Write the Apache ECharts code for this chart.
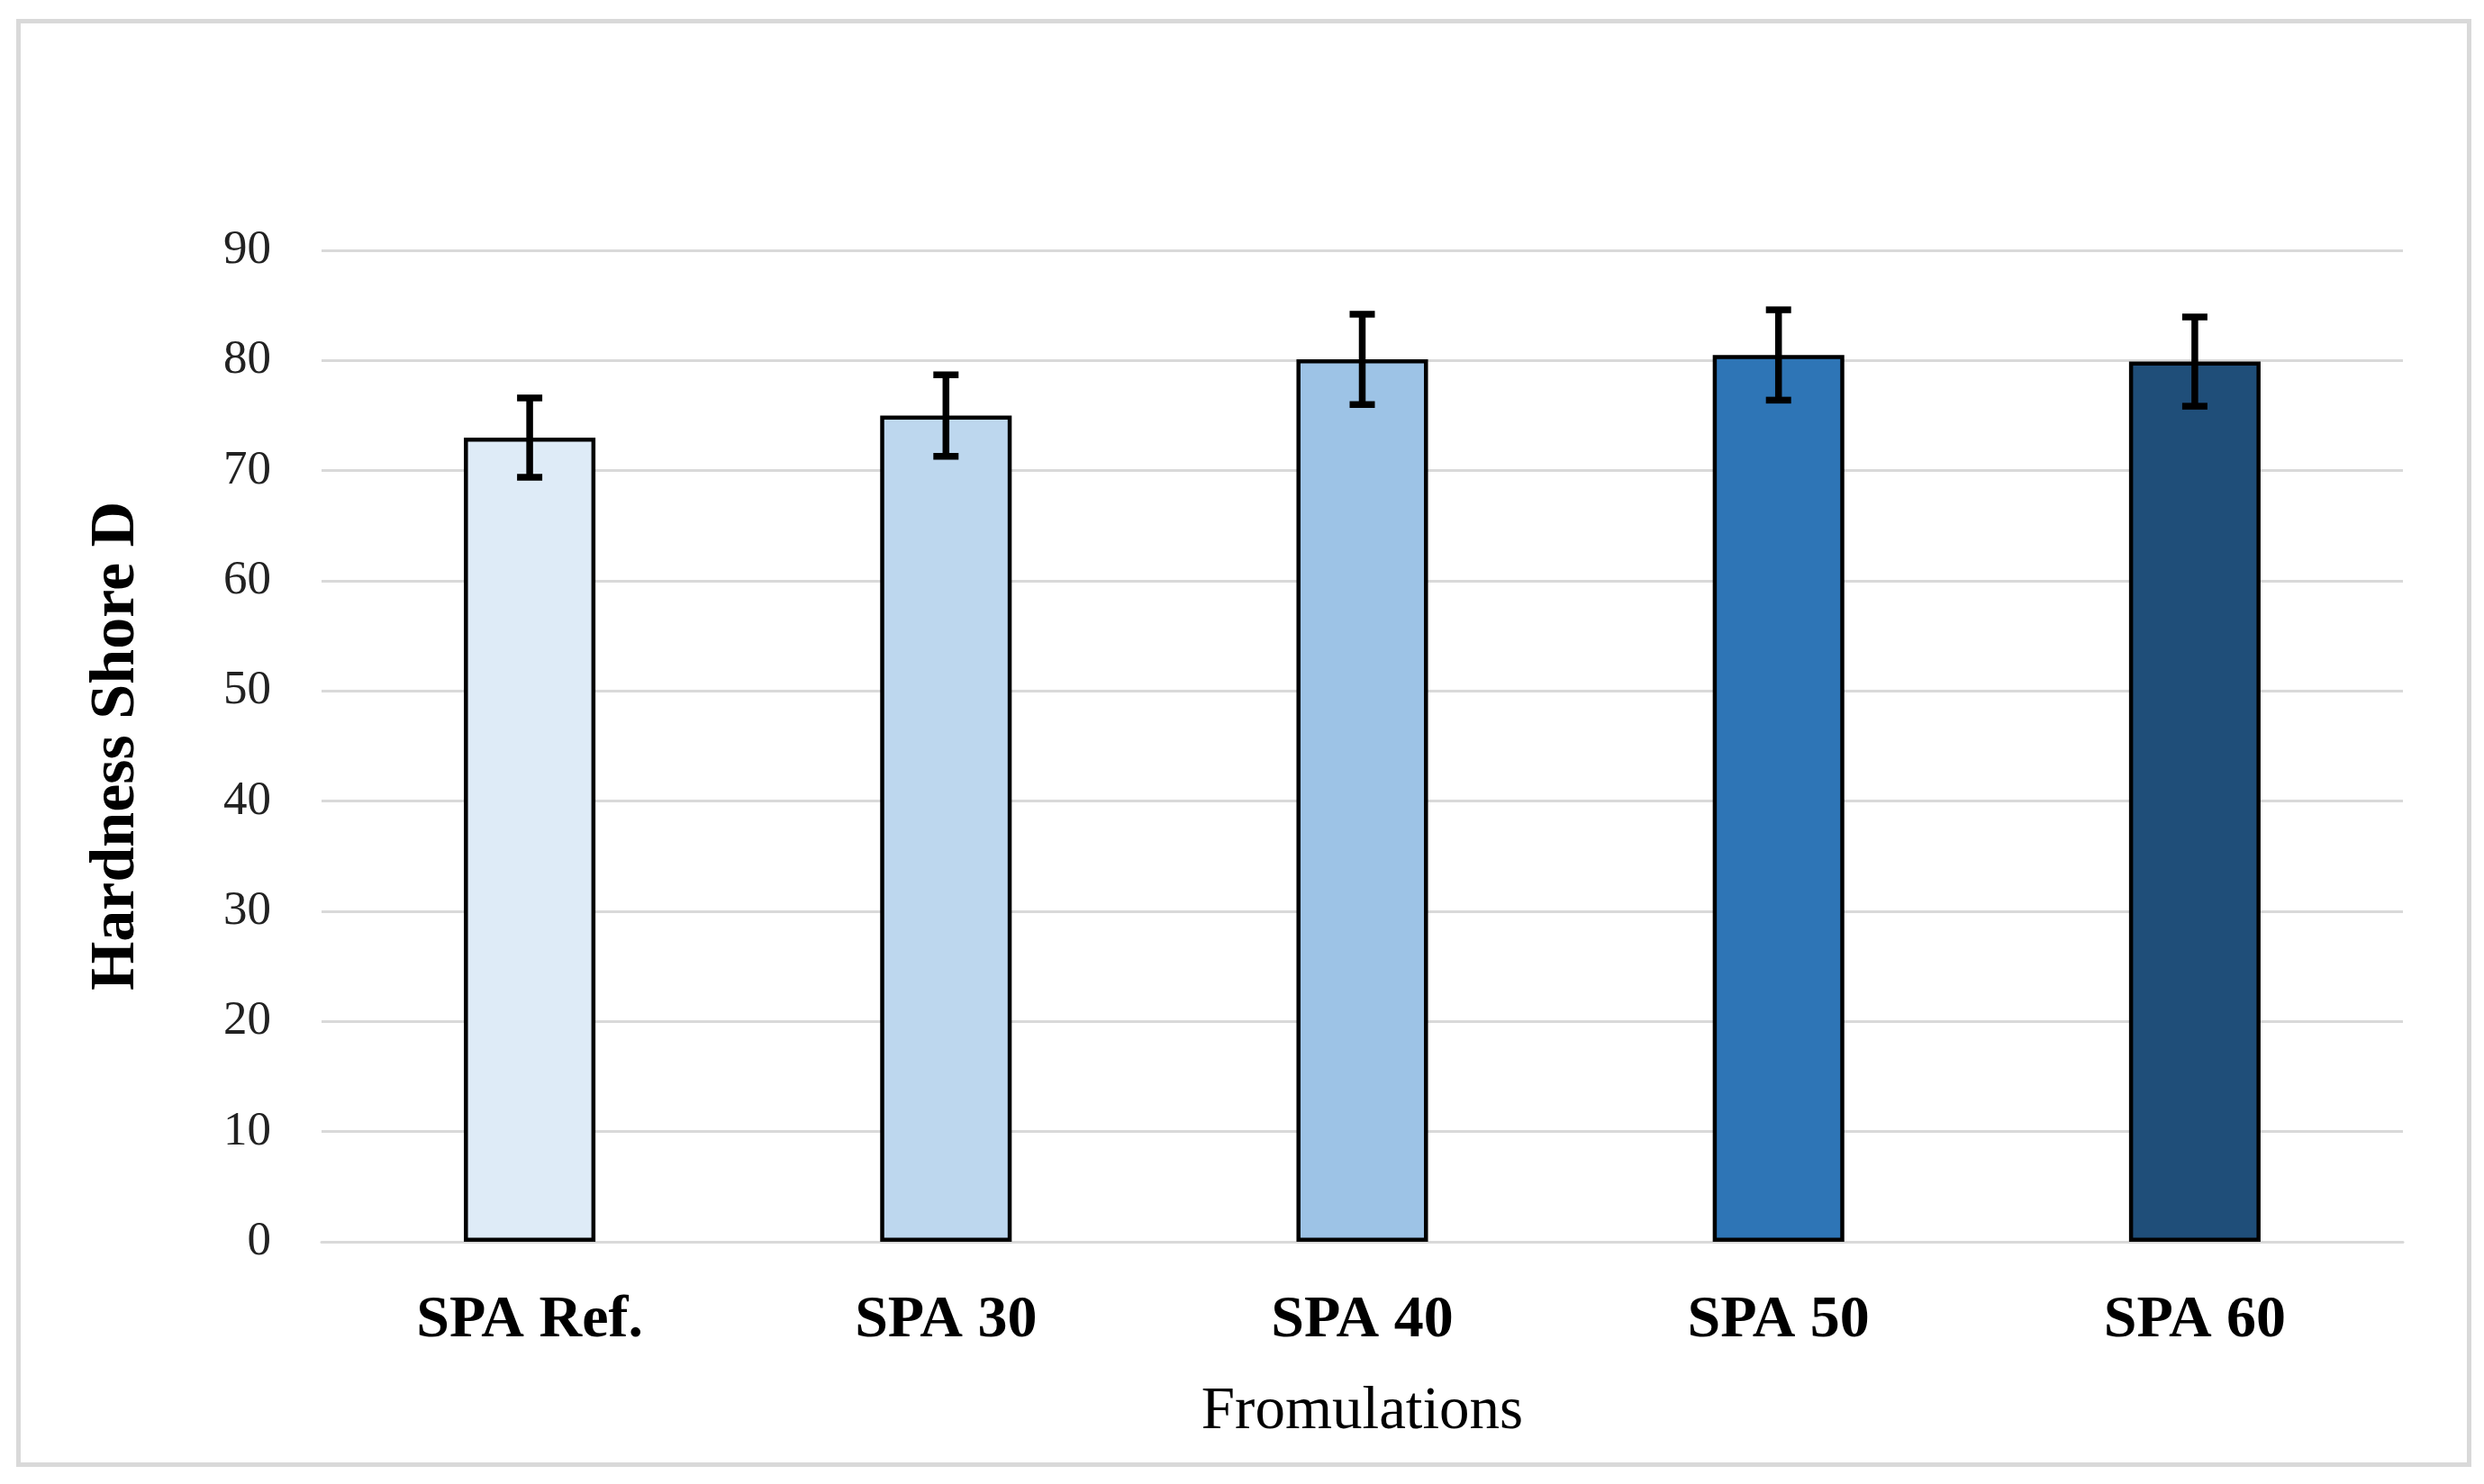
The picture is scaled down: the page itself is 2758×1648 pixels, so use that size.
<!DOCTYPE html>
<html>
<head>
<meta charset="utf-8">
<script src="https://cdn.jsdelivr.net/npm/echarts@6/dist/echarts.min.js"></script>
<style>
html,body{margin:0;padding:0;background:#fff;}
#wrap{position:absolute;left:18px;top:21px;width:2726px;height:1608px;border:5px solid #D9D9D9;box-sizing:border-box;}
#chart{position:absolute;left:0;top:0;width:2758px;height:1648px;}
</style>
</head>
<body>
<div id="wrap"></div>
<div id="chart"></div>
<script>
const categories = ['SPA Ref.', 'SPA 30', 'SPA 40', 'SPA 50', 'SPA 60'];
const hardness = [73.0, 75.0, 80.1, 80.5, 79.9];
const errors = [3.6, 3.7, 4.1, 4.1, 4.05];
const barColors = ['#DEEBF7', '#BDD7EE', '#9DC3E6', '#2E75B6', '#1F4E79'];
const yTicks = {min: 0, max: 90, interval: 10};

const chart = echarts.init(document.getElementById('chart'), null, {renderer: 'canvas'});
const serif = '"Liberation Serif", "DejaVu Serif", serif';

const option = {
  backgroundColor: 'transparent',
  animation: false,
  grid: {left: 357, right: 90, top: 278, bottom: 269, containLabel: false},
  xAxis: {
    type: 'category',
    data: categories,
    axisLine: {show: true, lineStyle: {color: '#D9D9D9', width: 3}},
    axisTick: {show: false},
    axisLabel: {fontFamily: serif, fontWeight: 'bold', fontSize: 66, color: '#000', margin: 55},
    name: 'Fromulations',
    nameLocation: 'middle',
    nameGap: 156,
    nameTextStyle: {fontFamily: serif, fontSize: 67, color: '#000'}
  },
  yAxis: {
    type: 'value',
    min: yTicks.min, max: yTicks.max, interval: yTicks.interval,
    axisLine: {show: false},
    axisTick: {show: false},
    splitLine: {show: true, lineStyle: {color: '#D9D9D9', width: 3}},
    axisLabel: {fontFamily: serif, fontSize: 53, color: '#222', margin: 56},
    name: 'Hardness Shore D',
    nameLocation: 'middle',
    nameGap: 192,
    nameTextStyle: {fontFamily: serif, fontWeight: 'bold', fontSize: 70, color: '#000'}
  },
  series: [
    {
      type: 'bar',
      data: hardness.map((v, i) => ({value: v, itemStyle: {color: barColors[i]}})),
      barWidth: '31.6%',
      itemStyle: {borderColor: '#000', borderWidth: 4.5},
      z: 2
    },
    {
      type: 'custom',
      data: hardness.map((v, i) => [i, v - errors[i], v + errors[i]]),
      z: 5,
      renderItem: function (params, api) {
        const x = api.value(0);
        const lo = api.coord([x, api.value(1)]);
        const hi = api.coord([x, api.value(2)]);
        const half = 14;
        const style = {stroke: '#000', lineWidth: 7.5};
        return {
          type: 'group',
          children: [
            {type: 'line', shape: {x1: hi[0], y1: hi[1], x2: lo[0], y2: lo[1]}, style: style},
            {type: 'line', shape: {x1: hi[0] - half, y1: hi[1], x2: hi[0] + half, y2: hi[1]}, style: style},
            {type: 'line', shape: {x1: lo[0] - half, y1: lo[1], x2: lo[0] + half, y2: lo[1]}, style: style}
          ]
        };
      }
    }
  ]
};
chart.setOption(option);
</script>
</body>
</html>
